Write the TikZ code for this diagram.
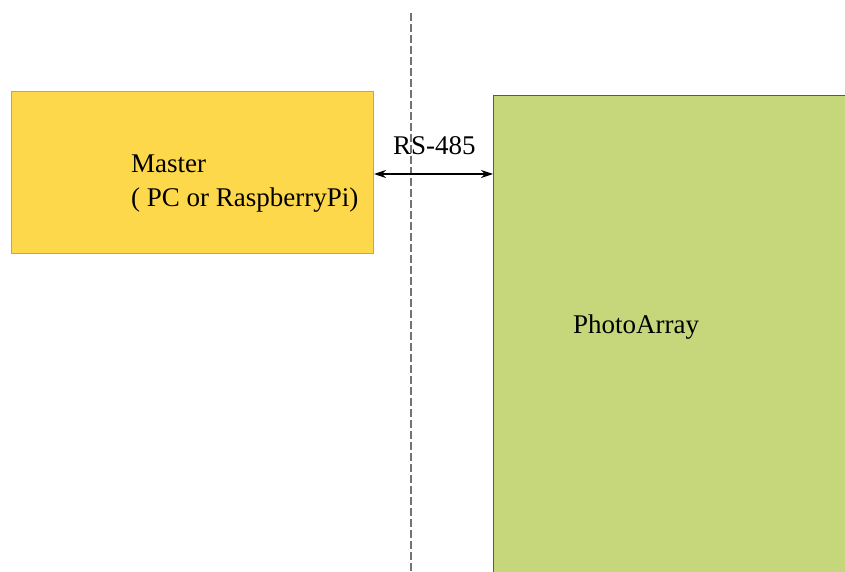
\documentclass[tikz,border=0pt]{standalone}
\usepackage{fontspec}
\setmainfont{Liberation Serif}
\usetikzlibrary{arrows.meta}
\definecolor{myyellow}{HTML}{FDD84B}
\definecolor{mygreen}{HTML}{C5D77A}
\tikzset{
  box/.style={draw=#1, line width=1pt, inner sep=0pt, anchor=north west},
  lbl/.style={font=\fontsize{27}{34}\selectfont, inner sep=0pt, anchor=base west, align=left},
  link/.style={line width=1.3pt, {Stealth[length=12pt,width=8pt]}-{Stealth[length=12pt,width=8pt]}},
  divider/.style={draw=black!55, line width=1.8pt, dash pattern=on 8pt off 3pt}
}
\begin{document}
\begin{tikzpicture}[x=1pt,y=-1pt]
\useasboundingbox (0,0) rectangle (845,572);
\clip (0,0) rectangle (845,572);
\node[box=gray!70, fill=myyellow, minimum width=362pt, minimum height=162pt] (master) at (11,91) {};
\node[box=black!65, fill=mygreen, minimum width=400pt, minimum height=520pt] (photo) at (493,95) {};
\coordinate (dtop) at (411,13);
\coordinate (dbot) at (411,580);
\draw[divider] (dtop) -- (dbot);
\node[lbl] (mtext) at (131,206) {Master\\( PC or RaspberryPi)};
\node[lbl] (ptext) at (573,333) {PhotoArray};
\coordinate (arr) at (0,174);
\draw[link] (master.east |- arr) -- (photo.west |- arr);
\node[lbl] (rs) at (393,155) {RS-485};
\end{tikzpicture}
\end{document}
